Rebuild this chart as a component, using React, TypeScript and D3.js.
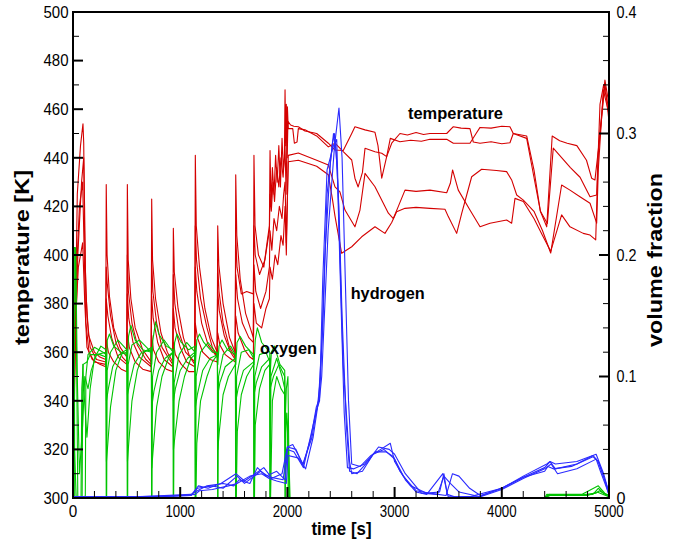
import React from "react";
import * as d3 from "d3";

type P = [number, number];

// ---- axis ticks ----
const timeTicks = [0, 1000, 2000, 3000, 4000, 5000];
const tempTicks = [300, 320, 340, 360, 380, 400, 420, 440, 460, 480, 500];
const fracTicks = [0, 0.1, 0.2, 0.3, 0.4];
const fracTickLabels = ["0", "0.1", "0.2", "0.3", "0.4"];

// ---- temperature [K] (left axis) ----
const tempA: P[] = [
  [0,300],[15,350],[40,425],[70,445],[93,454],[100,446],[108,410],[120,385],[145,367],[200,360],[250,358],[305,357],
  [310,429],[318,400],[340,383],[380,370],[440,362],[502,358],
  [507,429],[515,398],[540,382],[580,370],[650,361],[729,356],
  [734,423],[742,398],[770,382],[820,368],[880,360],[931,356],
  [936,411],[945,393],[980,378],[1030,366],[1090,358],[1136,355],
  [1141,441],[1150,412],[1180,395],[1230,378],[1290,366],[1345,360],
  [1350,412],[1360,396],[1400,380],[1460,366],[1513,360],
  [1518,433],[1528,408],[1560,390],[1610,376],[1682,366],
  [1688,441],[1698,412],[1730,400],[1780,395],[1810,405],[1832,412],
  [1838,443],[1848,420],[1860,436],[1875,425],[1890,441],[1905,430],[1920,445],[1935,428],[1950,448],[1962,435],[1972,440],[1978,468],[1984,445],[1990,462],[1998,440],[2005,455],
  [2030,453.5],[2060,453],[2102,452.8],[2164,451],[2273,450],[2382,446],[2444,443.2],[2521,443],[2600,450],[2630,452.8],[2724,451.5],[2817,450.5],[2845,445],[2880,431.6],[2926,440.5],[2973,446],[3050,450],[3120,449.4],[3200,450.4],[3270,449.6],[3330,450],[3486,450],[3548,452.8],[3620,452.2],[3703,452],[3734,446.5],[3797,446],[3900,446.6],[4000,445.8],[4076,446.2],[4107,450],[4232,449],[4300,435],[4360,418],[4419,411.6],[4470,449],[4540,447],[4610,446],[4700,445],[4790,439],[4838,431.6],[4869,430.9],[4900,443],[4962,472],[5000,462],
];
const tempB: P[] = [
  [0,300],[20,360],[45,400],[80,430],[100,440],[108,420],[115,395],[130,375],[160,362],[220,357],[305,356],
  [310,395],[320,388],[350,375],[400,364],[460,358],[502,356],
  [507,400],[517,385],[550,372],[600,363],[680,357],[729,355],
  [734,398],[745,385],[780,372],[830,362],[900,357],[931,355],
  [936,392],[950,380],[990,368],[1050,360],[1136,356],
  [1141,412],[1152,398],[1190,382],[1250,370],[1300,362],[1345,358],
  [1350,396],[1362,385],[1400,372],[1460,362],[1513,358],
  [1518,408],[1530,395],[1570,384],[1620,385],[1682,384],
  [1688,412],[1700,400],[1740,392],[1790,398],[1832,410],
  [1838,425],[1850,418],[1865,430],[1880,422],[1900,436],[1920,428],[1940,440],[1960,432],[1978,445],[1988,425],[2000,461],[2008,452],
  [2050,452],[2065,446],[2090,446.5],[2102,452],[2164,451.5],[2273,449],[2382,444.5],[2444,446],[2521,442.5],[2600,439.1],[2630,431.6],[2660,428],[2700,434],[2724,443.9],[2817,442.5],[2880,441.9],[2926,440.5],[2960,448],[3050,446.6],[3150,447.2],[3250,446.8],[3330,447.6],[3486,447.6],[3548,446],[3703,446],[3760,450],[3797,452.5],[3900,452.2],[4000,453],[4076,452.8],[4107,450],[4232,448],[4300,432],[4360,418],[4425,413],[4480,444],[4560,440],[4640,436],[4730,432],[4823,424],[4885,424.7],[4916,462],[4950,470],[5000,460],
];
const tempC: P[] = [
  [0,300],[10,340],[30,390],[60,420],[90,430],[105,400],[120,372],[150,360],[200,356],[305,355],
  [310,382],[325,375],[360,366],[420,358],[502,355],
  [507,384],[520,374],[560,364],[620,358],[729,354],
  [734,383],[748,374],[790,364],[850,357],[931,354],
  [936,378],[952,370],[1000,362],[1060,356],[1136,354],
  [1141,395],[1155,385],[1200,372],[1260,363],[1345,358],
  [1350,385],[1365,377],[1410,367],[1470,360],[1513,357],
  [1518,392],[1535,382],[1580,372],[1640,366],[1682,364],
  [1688,396],[1705,385],[1750,378],[1800,385],[1832,395],
  [1838,410],[1855,402],[1875,415],[1900,410],[1925,420],[1950,415],[1965,425],[1978,430],[1990,405],[2008,438.4],
  [2102,439],[2273,436.5],[2382,433],[2420,423],[2444,416],[2506,400.7],[2600,403.4],[2693,407.5],[2817,411.6],[2910,408.9],[2973,413.4],[3019,417.8],[3097,419.2],[3200,419.6],[3330,419.2],[3470,418.8],[3501,415.8],[3579,408.9],[3626,417.1],[3719,432.2],[3812,435.3],[3950,434.8],[4045,434.3],[4092,430.9],[4139,424.7],[4201,422.6],[4300,418],[4380,410],[4456,400.8],[4558,428.8],[4636,426.7],[4729,424],[4823,421.3],[4885,413.1],[4900,435],[4947,468],[5000,458],
];
const tempD: P[] = [
  [0,300],[8,330],[20,370],[50,395],[90,405],[110,380],[130,362],[180,357],[250,355],[305,354],
  [310,365],[330,360],[380,356],[450,353],[502,352],
  [507,368],[525,362],[580,356],[650,353],[729,352],
  [734,367],[750,361],[800,356],[870,353],[931,352],
  [936,364],[955,359],[1010,355],[1080,352],[1136,352],
  [1141,372],[1160,366],[1210,360],[1280,357],[1345,356],
  [1350,368],[1370,363],[1420,359],[1480,357],[1513,356],
  [1518,375],[1540,368],[1600,361],[1650,358],[1682,357],
  [1688,380],[1710,372],[1760,370],[1800,378],[1832,382],
  [1838,395],[1860,390],[1885,400],[1910,396],[1940,408],[1960,404],[1978,420],[1990,400],[2008,441],
  [2102,442],[2273,439],[2382,437],[2444,428],[2490,426],[2537,418.5],[2630,411.6],[2677,418.5],[2724,433.6],[2817,428.1],[2942,417.2],[2988,415],[3034,419.9],[3097,426.7],[3200,426.2],[3330,426.7],[3486,425.6],[3520,429.5],[3541,435],[3594,426.7],[3703,418.5],[3797,411.6],[3890,413.1],[4045,414.4],[4092,413.1],[4123,423.3],[4201,422],[4300,415],[4380,408],[4456,401.5],[4558,416.5],[4636,411.6],[4760,408.9],[4823,408.2],[4876,406.2],[4900,441.9],[4962,470.7],[5000,455],
];

// ---- hydrogen volume fraction (right axis) ----
const hydrogenA: P[] = [
  [0,0.001],[500,0.001],[1100,0.002],[1160,0.008],[1300,0.01],[1400,0.008],[1530,0.018],[1600,0.012],[1750,0.022],[1850,0.016],[1950,0.02],[2000,0.042],[2050,0.044],[2145,0.028],[2230,0.05],[2270,0.072],[2300,0.08],[2330,0.18],[2370,0.27],[2430,0.29],[2460,0.295],[2490,0.2],[2520,0.11],[2580,0.03],[2600,0.02],[2700,0.022],[2800,0.036],[2900,0.04],[3000,0.032],[3100,0.015],[3200,0.005],[3300,0.003],[3450,0.02],[3500,0.001],[3700,0.001],[4000,0.008],[4200,0.017],[4400,0.025],[4450,0.03],[4500,0.024],[4700,0.028],[4850,0.035],[4900,0.03],[5000,0.005],
];
const hydrogenB: P[] = [
  [0,0.0005],[600,0.001],[1100,0.003],[1160,0.006],[1250,0.01],[1400,0.012],[1500,0.01],[1550,0.015],[1650,0.012],[1720,0.025],[1800,0.018],[1900,0.022],[1980,0.015],[2000,0.04],[2060,0.038],[2150,0.025],[2240,0.06],[2280,0.075],[2310,0.1],[2350,0.2],[2400,0.275],[2430,0.3],[2455,0.285],[2480,0.24],[2510,0.15],[2550,0.06],[2580,0.022],[2650,0.02],[2750,0.03],[2850,0.042],[2950,0.04],[3000,0.036],[3100,0.02],[3250,0.004],[3400,0.003],[3460,0.018],[3520,0.012],[3600,0.005],[3800,0.001],[4000,0.007],[4200,0.016],[4400,0.024],[4460,0.028],[4520,0.02],[4700,0.024],[4880,0.032],[4920,0.022],[5000,0.003],
];
const hydrogenC: P[] = [
  [0,0.001],[800,0.001],[1100,0.002],[1170,0.01],[1260,0.008],[1380,0.012],[1520,0.02],[1600,0.014],[1700,0.02],[1780,0.025],[1850,0.017],[1960,0.015],[2000,0.042],[2080,0.04],[2145,0.027],[2220,0.05],[2270,0.075],[2300,0.082],[2320,0.1],[2380,0.22],[2440,0.29],[2481,0.321],[2510,0.28],[2540,0.18],[2570,0.08],[2600,0.028],[2680,0.026],[2780,0.035],[2870,0.04],[2960,0.045],[3000,0.03],[3080,0.018],[3200,0.006],[3320,0.004],[3480,0.002],[3540,0.02],[3600,0.018],[3700,0.008],[3800,0.002],[4000,0.008],[4200,0.018],[4420,0.028],[4450,0.03],[4500,0.028],[4700,0.03],[4880,0.036],[4950,0.02],[5000,0.004],
];
const hydrogenD: P[] = [
  [0,0.001],[900,0.0015],[1140,0.003],[1180,0.006],[1300,0.007],[1450,0.01],[1530,0.012],[1650,0.018],[1760,0.02],[1830,0.016],[1900,0.014],[1990,0.012],[2005,0.035],[2100,0.033],[2170,0.024],[2240,0.05],[2290,0.08],[2330,0.14],[2370,0.25],[2420,0.292],[2440,0.3],[2465,0.27],[2500,0.16],[2530,0.07],[2560,0.025],[2620,0.024],[2720,0.028],[2820,0.038],[2920,0.038],[2990,0.034],[3050,0.022],[3150,0.01],[3300,0.004],[3420,0.005],[3460,0.02],[3490,0.003],[3560,0.001],[3800,0.0015],[4000,0.008],[4200,0.017],[4400,0.022],[4430,0.026],[4480,0.024],[4650,0.026],[4850,0.034],[4900,0.03],[4960,0.015],[5000,0.002],
];

// ---- oxygen volume fraction (right axis) ----
const oxygenA: P[] = [
  [0,0.206],[12,0.206],[16,0],[100,0],[115,0.002],[120,0.1],[140,0.118],[200,0.124],[280,0.12],[307,0.118],
  [310,0],[314,0],[319,0.105],[350,0.12],[420,0.13],[503,0.122],
  [506,0],[510,0],[515,0.11],[550,0.126],[620,0.13],[731,0.12],
  [733,0],[737,0],[742,0.1],[780,0.12],[850,0.13],[933,0.12],
  [935,0],[939,0],[944,0.095],[990,0.118],[1060,0.128],[1138,0.12],
  [1140,0],[1144,0],[1149,0.1],[1190,0.12],[1260,0.128],[1347,0.118],
  [1349,0],[1353,0],[1358,0.1],[1400,0.118],[1470,0.125],[1515,0.118],
  [1517,0],[1521,0],[1526,0.1],[1570,0.12],[1640,0.122],[1685,0.115],
  [1687,0],[1691,0],[1696,0.1],[1740,0.118],[1800,0.12],[1835,0.112],
  [1837,0],[1841,0],[1846,0.1],[1900,0.115],[1950,0.1],[1975,0.09],
  [1977,0],[1981,0],[1986,0.07],[2000,0.06],[2008,0],[4400,0],[4420,0.003],[4600,0.002],[4850,0.003],[4900,0.008],[4950,0.004],[5000,0.002],
];
const oxygenB: P[] = [
  [0,0.206],[20,0.206],[30,0.15],[45,0],[85,0],[92,0.11],[100,0.09],[130,0.05],[160,0.09],[200,0.115],[260,0.125],[308,0.122],
  [312,0.03],[325,0.045],[350,0.075],[400,0.105],[460,0.12],[504,0.122],
  [508,0.03],[520,0.045],[550,0.08],[600,0.105],[660,0.12],[731,0.124],
  [735,0.025],[748,0.04],[780,0.075],[830,0.1],[890,0.115],[933,0.12],
  [937,0.04],[950,0.05],[990,0.08],[1040,0.1],[1100,0.115],[1138,0.118],
  [1142,0],[1146,0],[1155,0.045],[1190,0.08],[1250,0.1],[1300,0.112],[1347,0.118],
  [1351,0.04],[1365,0.055],[1400,0.085],[1450,0.1],[1515,0.11],
  [1519,0],[1523,0],[1533,0.055],[1570,0.085],[1620,0.1],[1685,0.11],
  [1689,0],[1693,0],[1700,0.06],[1740,0.09],[1790,0.105],[1835,0.11],
  [1839,0],[1843,0],[1860,0.08],[1900,0.1],[1940,0.09],[1975,0.085],
  [1979,0.02],[1995,0.04],[2010,0.02],[2020,0],[4400,0],[4430,0.002],[4700,0.002],[4880,0.004],[4910,0.006],[5000,0.001],
];
const oxygenC: P[] = [
  [0,0.206],[25,0.206],[40,0.1],[60,0.02],[90,0.06],[110,0.1],[140,0.09],[170,0.105],[220,0.118],[308,0.12],
  [312,0.08],[330,0.09],[370,0.108],[430,0.118],[504,0.12],
  [508,0.085],[530,0.095],[570,0.11],[640,0.12],[731,0.122],
  [735,0.075],[755,0.088],[800,0.105],[860,0.115],[933,0.12],
  [937,0.08],[955,0.09],[1000,0.105],[1070,0.115],[1138,0.12],
  [1142,0.075],[1160,0.085],[1210,0.105],[1280,0.115],[1347,0.118],
  [1351,0.085],[1370,0.095],[1420,0.108],[1515,0.115],
  [1519,0.08],[1540,0.09],[1590,0.105],[1685,0.112],
  [1689,0.085],[1710,0.095],[1760,0.108],[1835,0.115],
  [1839,0.09],[1870,0.1],[1920,0.11],[1975,0.1],
  [1979,0.05],[1995,0.07],[2015,0.03],[2025,0],[4400,0],[4450,0.002],[4800,0.002],[4890,0.005],[4940,0.003],[5000,0.001],
];
const oxygenD: P[] = [
  [0,0.206],[5,0.206],[10,0.05],[30,0],[75,0],[82,0.09],[95,0.11],[130,0.112],[160,0.118],[250,0.118],[308,0.116],
  [312,0.105],[320,0.13],[340,0.135],[380,0.125],[450,0.12],[504,0.118],
  [508,0.11],[518,0.133],[540,0.142],[580,0.13],[650,0.122],[731,0.12],
  [735,0.11],[745,0.13],[770,0.145],[800,0.135],[870,0.125],[933,0.122],
  [937,0.11],[948,0.128],[970,0.135],[1010,0.128],[1080,0.122],[1138,0.125],
  [1142,0.11],[1155,0.13],[1180,0.135],[1220,0.128],[1300,0.12],[1347,0.12],
  [1351,0.11],[1362,0.125],[1390,0.13],[1440,0.122],[1515,0.118],
  [1519,0.11],[1530,0.128],[1560,0.133],[1610,0.125],[1685,0.118],
  [1689,0.11],[1700,0.13],[1720,0.14],[1760,0.128],[1835,0.12],
  [1839,0.1],[1850,0.12],[1880,0.125],[1930,0.11],[1975,0.105],
  [1979,0.06],[1990,0.09],[2005,0.1],[2018,0],[4400,0],[4440,0.003],[4750,0.003],[4900,0.01],[4960,0.004],[5000,0.002],
];

const temperatureSeries = [tempA, tempB, tempC, tempD];
const hydrogenSeries = [hydrogenA, hydrogenB, hydrogenC, hydrogenD];
const oxygenSeries = [oxygenA, oxygenB, oxygenC, oxygenD];

const RED = "#d40000";
const BLUE = "#2a2aff";
const GREEN = "#00c400";
const FONT = "'Liberation Sans', Arial, Helvetica, sans-serif";

export default function App() {
  const L = 73, R = 609, T = 12, B = 498;
  const x = d3.scaleLinear().domain([0, 5000]).range([L, R]);
  const yT = d3.scaleLinear().domain([300, 500]).range([B, T]);
  const yF = d3.scaleLinear().domain([0, 0.4]).range([B, T]);
  const lineT = d3.line<P>().x(d => x(d[0])).y(d => yT(d[1]));
  const lineF = d3.line<P>().x(d => x(d[0])).y(d => yF(d[1]));

  const tempMinor = d3.range(300, 501, 10);
  const timeMinor = d3.range(0, 5001, 200);
  const fracMinor = d3.range(0, 0.4001, 0.02);

  return (
    <svg width={674} height={546} style={{ position: "absolute", left: 0, top: 0 }} fontFamily={FONT}>
      <rect x={0} y={0} width={674} height={546} fill="#fff" />
      <defs>
        <clipPath id="plotArea">
          <rect x={L} y={T} width={R - L} height={B - T} />
        </clipPath>
      </defs>
      <g clipPath="url(#plotArea)" fill="none" strokeLinejoin="round">
        {temperatureSeries.map((s, i) => (
          <path key={"t" + i} d={lineT(s) || ""} stroke={RED} strokeWidth={1.1} />
        ))}
        {oxygenSeries.map((s, i) => (
          <path key={"o" + i} d={lineF(s) || ""} stroke={GREEN} strokeWidth={1.1} />
        ))}
        {hydrogenSeries.map((s, i) => (
          <path key={"h" + i} d={lineF(s) || ""} stroke={BLUE} strokeWidth={1.1} />
        ))}
      </g>

      {/* frame */}
      <rect x={L} y={T} width={R - L} height={B - T} fill="none" stroke="#000" strokeWidth={2} />

      {/* left ticks */}
      {tempMinor.map(v => {
        const major = v % 20 === 0;
        return <line key={"lt" + v} x1={L} x2={L + (major ? 10 : 6)} y1={yT(v)} y2={yT(v)} stroke="#000" strokeWidth={major ? 2 : 1} />;
      })}
      {tempTicks.map(v => (
        <text key={"ll" + v} x={68.5} y={yT(v) + 5.8} fontSize={16} textAnchor="end" textLength={25} lengthAdjust="spacingAndGlyphs">{v}</text>
      ))}

      {/* bottom ticks */}
      {timeMinor.map(v => {
        const major = v % 1000 === 0;
        return <line key={"bt" + v} x1={x(v)} x2={x(v)} y1={B} y2={B - (major ? 11 : 7)} stroke="#000" strokeWidth={major ? 2 : 1} />;
      })}
      {timeTicks.map(v => (
        <text key={"bl" + v} x={x(v)} y={516.5} fontSize={17} textAnchor="middle" textLength={v === 0 ? 8.5 : 29.5} lengthAdjust="spacingAndGlyphs">{v}</text>
      ))}

      {/* right ticks */}
      {fracMinor.map((v, i) => {
        const major = i % 5 === 0;
        return <line key={"rt" + i} x1={R} x2={R - (major ? 10 : 6)} y1={yF(v)} y2={yF(v)} stroke="#000" strokeWidth={major ? 2 : 1} />;
      })}
      {fracTicks.map((v, i) => (
        <text key={"rl" + i} x={616.5} y={yF(v) + 5.8} fontSize={16} textAnchor="start" textLength={i === 0 ? 9 : 20} lengthAdjust="spacingAndGlyphs">{fracTickLabels[i]}</text>
      ))}

      {/* axis titles */}
      <text x={341.5} y={535} fontSize={18} fontWeight="bold" textAnchor="middle" textLength={60} lengthAdjust="spacingAndGlyphs">time [s]</text>
      <text transform="translate(29,257.5) rotate(-90)" fontSize={21} fontWeight="bold" textAnchor="middle" textLength={175} lengthAdjust="spacingAndGlyphs">temperature [K]</text>
      <text transform="translate(662,260) rotate(-90)" fontSize={21} fontWeight="bold" textAnchor="middle" textLength={174} lengthAdjust="spacingAndGlyphs">volume fraction</text>

      {/* curve labels */}
      <text x={408} y={119} fontSize={16} fontWeight="bold" textLength={95} lengthAdjust="spacingAndGlyphs">temperature</text>
      <text x={350.7} y={298.5} fontSize={16} fontWeight="bold" textLength={74} lengthAdjust="spacingAndGlyphs">hydrogen</text>
      <text x={260} y={354} fontSize={16} fontWeight="bold" textLength={57} lengthAdjust="spacingAndGlyphs">oxygen</text>
    </svg>
  );
}
